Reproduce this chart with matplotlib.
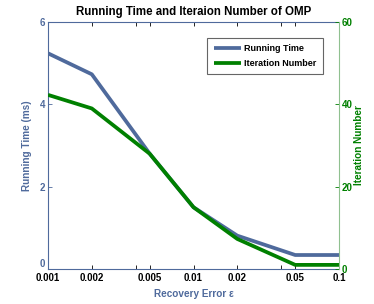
import matplotlib
matplotlib.use("Agg")
import matplotlib.pyplot as plt
import matplotlib.transforms as mtransforms
from matplotlib.ticker import FixedLocator, NullFormatter

errors = [0.001, 0.002, 0.005, 0.01, 0.02, 0.05, 0.1]
tick_labels = ["0.001", "0.002", "0.005", "0.01", "0.02", "0.05", "0.1"]
running_time = [5.24, 4.73, 2.8, 1.5, 0.81, 0.34, 0.34]
iterations = [42.3, 39.0, 28.0, 15.0, 7.3, 1.0, 1.0]

blue = "#4f6a9c"
green = "#008000"

plt.rcParams["font.family"] = ["Liberation Sans", "DejaVu Sans"]
fig = plt.figure(figsize=(3.74, 3.04), dpi=100)
ax = fig.add_axes([48/374, 1-269/304, (339-48)/374, (269-22)/304])
ax2 = ax.twinx()

ax.plot(errors, running_time, color=blue, lw=2.7, label="Running Time", solid_capstyle="butt")
ax2.plot(errors, iterations, color=green, lw=2.7, label="Iteration Number", solid_capstyle="butt")

ax.set_xscale("log")
ax.set_xlim(0.001, 0.1)
ax.set_ylim(0, 6)
ax2.set_ylim(0, 60)
ax.xaxis.set_major_locator(FixedLocator(errors))
ax.set_xticklabels(tick_labels, fontsize=7, fontweight="bold")
ax.xaxis.set_minor_locator(FixedLocator([0.004, 0.04]))
ax.xaxis.set_minor_formatter(NullFormatter())
ax.tick_params(axis="x", which="both", direction="in", top=True, length=3, width=0.6, pad=3)
ax.set_yticks([0, 2, 4, 6])
ax.tick_params(axis="y", direction="in", length=3, colors=blue, labelsize=7, width=0.6, pad=2)
ax2.set_yticks([0, 20, 40, 60])
ax2.tick_params(axis="y", direction="in", length=3, colors=green, labelsize=7, width=0.6, pad=2)
for lab in ax.get_yticklabels():
    lab.set_fontweight("bold")
for lab in ax2.get_yticklabels():
    lab.set_fontweight("bold")
# raise the left "0" label slightly as in the reference
first = ax.get_yticklabels()[0]
first.set_transform(first.get_transform() + mtransforms.ScaledTranslation(0, 6/100, fig.dpi_scale_trans))

for s in ["left", "top", "bottom"]:
    ax.spines[s].set_color(blue)
    ax.spines[s].set_linewidth(0.8)
ax2.spines["right"].set_color("#90c090")
ax2.spines["right"].set_linewidth(0.8)
ax2.spines["left"].set_visible(False)
ax2.spines["top"].set_visible(False)
ax2.spines["bottom"].set_visible(False)
ax.spines["right"].set_visible(False)

ax.set_ylabel("Running Time (ms)", color=blue, fontsize=7.2, fontweight="bold")
ax.yaxis.set_label_coords(-0.055, 0.5)
ax2.set_ylabel("Iteration Number", color=green, fontsize=7.2, fontweight="bold")
ax2.yaxis.set_label_coords(1.052, 0.5)
ax.set_xlabel("Recovery Error ε", color=blue, fontsize=7.2, fontweight="bold")
ax.xaxis.set_label_coords(0.5, -0.081)
ax.set_title("Running Time and Iteraion Number of OMP", fontsize=8.3, fontweight="bold", pad=5)

h1, l1 = ax.get_legend_handles_labels()
h2, l2 = ax2.get_legend_handles_labels()
leg = ax2.legend(h1 + h2, l1 + l2, loc="upper right", bbox_to_anchor=(323/374, 1-38/304),
                 bbox_transform=fig.transFigure, prop={"weight": "bold", "size": 6.5},
                 frameon=True, fancybox=False, edgecolor="#404040", handlelength=3.0,
                 borderpad=0.7, labelspacing=0.6, handletextpad=0.4, borderaxespad=0)
leg.get_frame().set_linewidth(0.8)

fig.savefig("out.png", dpi=100)
